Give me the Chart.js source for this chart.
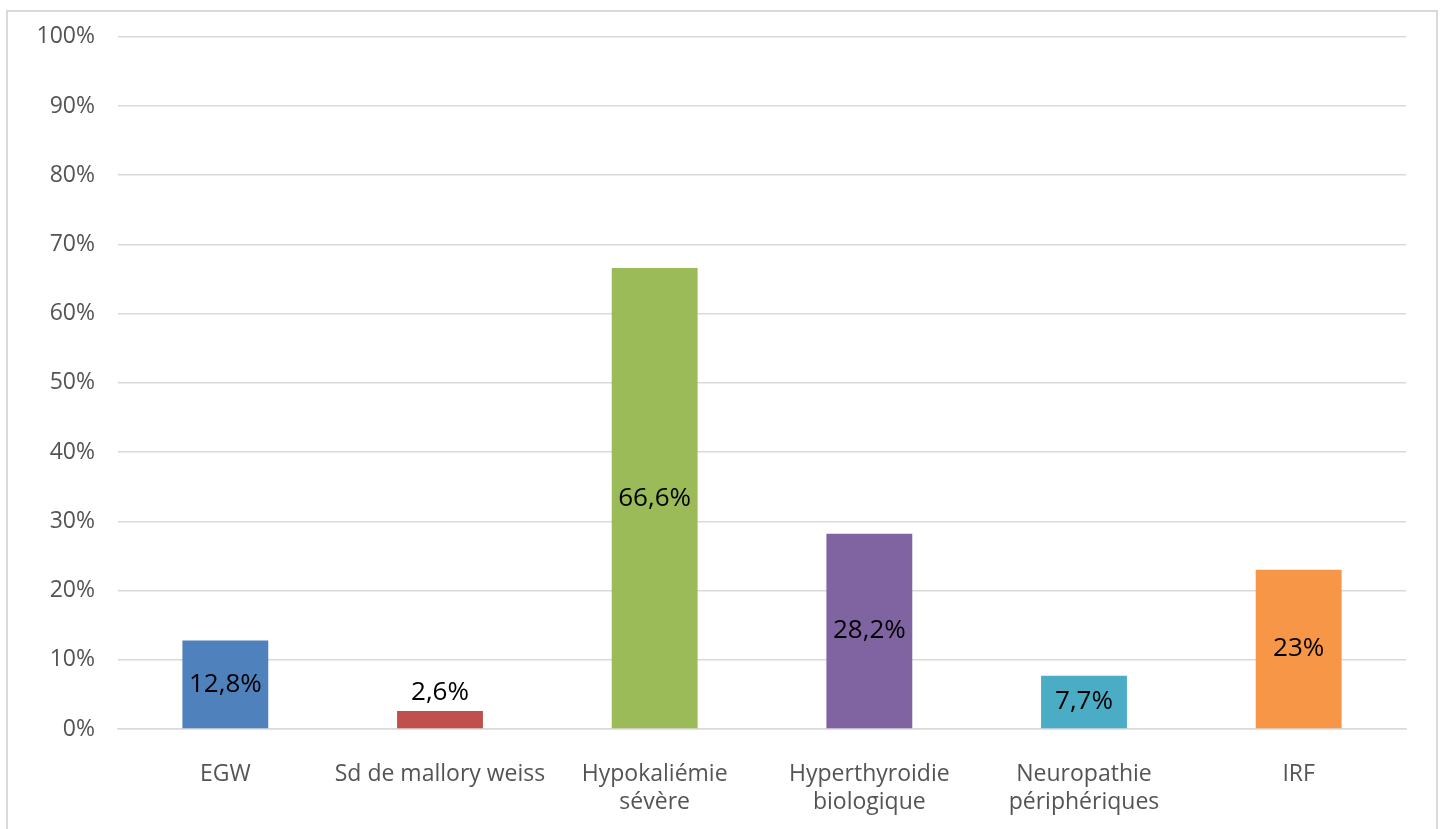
<!DOCTYPE html>
<html>
<head>
<meta charset="utf-8">
<script src="https://cdn.jsdelivr.net/npm/chart.js@4.4.1/dist/chart.umd.min.js"></script>
<style>
  html, body { margin: 0; padding: 0; background: #fff; }
  #frame { position: absolute; left: 6px; top: 10px; width: 1432px; height: 840px;
           border: 2px solid #d9d9d9; box-sizing: border-box; }
  #wrap { position: absolute; left: 0; top: 0; width: 1444px; height: 829px; }
</style>
</head>
<body>
<div id="frame"></div>
<div id="wrap"><canvas id="c" width="1444" height="829"></canvas></div>
<script>
// Complications and their share of patients (%)
const categories = [
  ["EGW"],
  ["Sd de mallory weiss"],
  ["Hypokaliémie", "sévère"],
  ["Hyperthyroidie", "biologique"],
  ["Neuropathie", "périphériques"],
  ["IRF"]
];
const values = [12.8, 2.6, 66.6, 28.2, 7.7, 23];
const barColors = ["#4F81BD", "#C0504D", "#9BBB59", "#8064A2", "#4BACC6", "#F79646"];
const yTicks = [0, 10, 20, 30, 40, 50, 60, 70, 80, 90, 100];

const FONT = "'Open Sans', 'Noto Sans', sans-serif";

function fmt(v) {
  return String(v).replace('.', ',') + '%';
}

// Value labels: centred in the bar, or just above it when the bar is too short
const valueLabels = {
  id: 'valueLabels',
  afterDatasetsDraw(chart) {
    const ctx = chart.ctx;
    const meta = chart.getDatasetMeta(0);
    ctx.save();
    ctx.font = "26px " + FONT;
    ctx.fillStyle = "#000";
    ctx.textAlign = "center";
    ctx.textBaseline = "middle";
    meta.data.forEach((bar, i) => {
      const h = bar.base - bar.y;
      const y = h < 30 ? bar.y - 18 : (bar.y + bar.base) / 2;
      ctx.fillText(fmt(values[i]), bar.x, y);
    });
    ctx.restore();
  }
};

new Chart(document.getElementById('c'), {
  type: 'bar',
  data: {
    labels: categories,
    datasets: [{
      data: values,
      backgroundColor: barColors,
      borderWidth: 0,
      categoryPercentage: 1,
      barPercentage: 0.4
    }]
  },
  options: {
    responsive: false,
    animation: false,
    layout: { padding: { top: 35, right: 38, left: 0, bottom: 0 } },
    plugins: { legend: { display: false }, tooltip: { enabled: false } },
    scales: {
      x: {
        grid: { display: false, drawTicks: false },
        border: { display: true, color: "#d9d9d9", width: 1.5 },
        ticks: {
          color: "#545454",
          font: { family: FONT, size: 23, lineHeight: 1.22 },
          padding: 31,
          maxRotation: 0,
          autoSkip: false
        },
        afterFit(scale) { scale.height = 100; }
      },
      y: {
        min: 0,
        max: 100,
        afterBuildTicks(scale) { scale.ticks = yTicks.map(v => ({ value: v })); },
        grid: { color: "#d9d9d9", lineWidth: 1.5, drawTicks: false },
        border: { display: false },
        ticks: {
          color: "#545454",
          font: { family: FONT, size: 23 },
          padding: 23,
          callback: v => v + '%'
        },
        afterFit(scale) { scale.width = 118; }
      }
    }
  },
  plugins: [valueLabels]
});
</script>
</body>
</html>
